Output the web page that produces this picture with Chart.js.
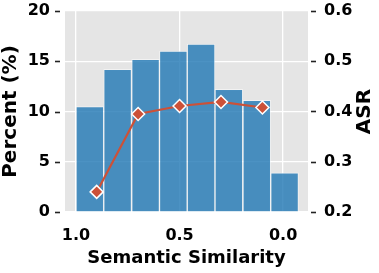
<!DOCTYPE html>
<html>
<head>
<meta charset="utf-8">
<script src="https://cdn.jsdelivr.net/npm/chart.js@4.4.1/dist/chart.umd.min.js"></script>
<style>
  html, body { margin: 0; padding: 0; background: #fff; }
</style>
</head>
<body>
<canvas id="simChart" width="379" height="273"></canvas>
<script>
// Histogram of semantic similarity (left axis) with ASR per bin (right axis)
const binCenters = [0.933, 0.799, 0.664, 0.530, 0.396, 0.262, 0.127, -0.007];
const percentValues = [10.5, 14.2, 15.2, 16.0, 16.7, 12.2, 11.1, 3.9];
const asrPositions = [0.9, 0.7, 0.5, 0.3, 0.1];
const asrValues = [0.240, 0.395, 0.411, 0.419, 0.408];
const xTickValues = [1.0, 0.5, 0.0];
const percentTickValues = [0, 5, 10, 15, 20];
const asrTickValues = [0.2, 0.3, 0.4, 0.5, 0.6];

const FONT = '"DejaVu Sans", "Liberation Sans", sans-serif';
const RED = '#cc5138';

const plotBackground = {
    id: 'plotBackground',
    beforeDraw(chart) {
        const { ctx, chartArea: a } = chart;
        ctx.save();
        ctx.fillStyle = '#e5e5e5';
        ctx.fillRect(a.left, a.top, a.right - a.left, a.bottom - a.top);
        ctx.restore();
    },
};

// small outside tick dashes (with a gap) + the right-hand title read bottom-to-top
const axisExtras = {
    id: 'axisExtras',
    afterDraw(chart) {
        const { ctx, chartArea: a, scales } = chart;
        ctx.save();
        ctx.strokeStyle = '#222';
        ctx.lineWidth = 1.6;
        scales.y.ticks.forEach(t => {
            const py = Math.round(scales.y.getPixelForValue(t.value)) + 0.5;
            ctx.beginPath();
            ctx.moveTo(a.left - 10, py);
            ctx.lineTo(a.left - 5, py);
            ctx.stroke();
        });
        scales.y1.ticks.forEach(t => {
            const py = Math.round(scales.y1.getPixelForValue(t.value)) + 0.5;
            ctx.beginPath();
            ctx.moveTo(a.right + 3, py);
            ctx.lineTo(a.right + 8, py);
            ctx.stroke();
        });

        ctx.fillStyle = '#000';
        ctx.font = 'bold 20px ' + FONT;
        ctx.textAlign = 'center';
        ctx.textBaseline = 'middle';
        ctx.translate(365, (a.top + a.bottom) / 2);
        ctx.rotate(-Math.PI / 2);
        ctx.fillText('ASR', 0, 0);
        ctx.restore();
    },
};

const tickFont = { family: FONT, size: 16, weight: 'bold' };
const gridOpts = { color: '#ffffff', lineWidth: 1.3, drawTicks: false, offset: false };

// fixed axis sizes so the plot area lands where the original has it
const fixWidth = w => s => {
    s.width = w;
    s.paddingTop = 0;
    s.paddingBottom = 0;
};

new Chart(document.getElementById('simChart'), {
    type: 'bar',
    data: {
        datasets: [
            {
                type: 'line',
                label: 'ASR',
                data: asrPositions.map((x, i) => ({ x, y: asrValues[i] })),
                yAxisID: 'y1',
                borderColor: RED,
                borderWidth: 2.2,
                tension: 0,
                pointStyle: 'rectRot',
                pointRadius: 6.5,
                pointBackgroundColor: RED,
                pointBorderColor: '#fff',
                pointBorderWidth: 1.5,
                order: 0,
            },
            {
                type: 'bar',
                label: 'Percent',
                data: binCenters.map((x, i) => ({ x, y: percentValues[i] })),
                yAxisID: 'y',
                backgroundColor: 'rgba(31, 119, 180, 0.8)',
                borderColor: 'rgba(255, 255, 255, 0.5)',
                borderWidth: 1,
                barPercentage: 1,
                categoryPercentage: 1,
                order: 1,
            },
        ],
    },
    options: {
        responsive: false,
        animation: false,
        layout: { padding: { top: 11, left: 0, right: 0, bottom: 0 } },
        plugins: {
            legend: { display: false },
            tooltip: { enabled: false },
        },
        scales: {
            x: {
                type: 'linear',
                reverse: true,
                min: -0.12,
                max: 1.053,
                offset: false,
                afterBuildTicks: s => { s.ticks = xTickValues.map(v => ({ value: v })); },
                afterFit: s => { s.height = 61; },
                grid: gridOpts,
                border: { display: false },
                ticks: {
                    padding: 14,
                    color: '#000',
                    font: tickFont,
                    maxRotation: 0,
                    callback: v => v.toFixed(1),
                },
                title: {
                    display: true,
                    text: 'Semantic Similarity',
                    color: '#000',
                    font: { family: FONT, size: 18, weight: 'bold' },
                    padding: { top: 0, bottom: 4 },
                },
            },
            y: {
                position: 'left',
                min: 0,
                max: 20,
                afterBuildTicks: s => { s.ticks = percentTickValues.map(v => ({ value: v })); },
                afterFit: fixWidth(65),
                grid: gridOpts,
                border: { display: false },
                ticks: { padding: 15, color: '#000', font: tickFont, callback: v => String(v) },
                title: {
                    display: true,
                    text: 'Percent (%)',
                    color: '#000',
                    font: { family: FONT, size: 20, weight: 'bold' },
                    padding: { top: -1, bottom: 0 },
                },
            },
            y1: {
                position: 'right',
                min: 0.2,
                max: 0.6,
                afterBuildTicks: s => { s.ticks = asrTickValues.map(v => ({ value: v })); },
                afterFit: fixWidth(71),
                grid: { drawOnChartArea: false, drawTicks: false },
                border: { display: false },
                ticks: { padding: 16, color: '#000', font: tickFont, callback: v => v.toFixed(1) },
            },
        },
    },
    plugins: [plotBackground, axisExtras],
});
</script>
</body>
</html>
